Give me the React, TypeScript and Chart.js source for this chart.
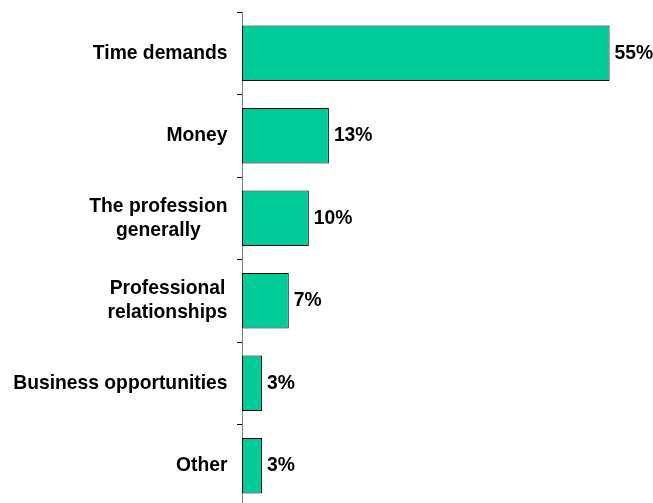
import React, { useEffect, useRef } from "react";
import { Chart, registerables } from "chart.js";

Chart.register(...registerables);

const categories: string[][] = [
  ["Time demands"],
  ["Money"],
  ["The profession", "generally"],
  ["Professional", "relationships"],
  ["Business opportunities"],
  ["Other"],
];
const values: number[] = [55, 13, 10, 7, 3, 3];
const valueSuffix = "%";

const FONT = "bold 19.3px 'Liberation Sans', Arial, sans-serif";

const labelPlugin = {
  id: "customLabels",
  afterDatasetsDraw(chart: any) {
    const ctx = chart.ctx;
    const yScale = chart.scales.y;
    const meta = chart.getDatasetMeta(0);
    ctx.save();
    ctx.font = FONT;
    ctx.fillStyle = "#000";
    ctx.textBaseline = "middle";
    // category labels
    const rightEdge = chart.chartArea.left - 14.5;
    const lineH = 24;
    categories.forEach((lines, i) => {
      const yc = yScale.getPixelForValue(i);
      const widths = lines.map((l) => ctx.measureText(l).width);
      const maxW = Math.max(...widths);
      const cx = rightEdge - maxW / 2;
      ctx.textAlign = "center";
      const startY = yc - ((lines.length - 1) * lineH) / 2;
      lines.forEach((l, j) => ctx.fillText(l, cx, startY + j * lineH));
    });
    // value labels
    ctx.textAlign = "left";
    meta.data.forEach((bar: any, i: number) => {
      ctx.fillText(values[i] + valueSuffix, bar.x + 5, bar.y);
    });
    ctx.restore();
  },
};

export default function App() {
  const ref = useRef<HTMLCanvasElement>(null);
  useEffect(() => {
    if (!ref.current) return;
    const chart = new Chart(ref.current, {
      type: "bar",
      data: {
        labels: categories.map((c) => c.join(" ")),
        datasets: [
          {
            data: values,
            backgroundColor: "#00CC99",
            borderColor: "#000000",
            borderWidth: 1,
            borderSkipped: false,
            barPercentage: 0.67,
            categoryPercentage: 1,
          },
        ],
      },
      options: {
        indexAxis: "y",
        animation: false,
        responsive: false,
        maintainAspectRatio: false,
        layout: { padding: { left: 237, right: 10, top: 12, bottom: 13 } },
        plugins: { legend: { display: false }, tooltip: { enabled: false } },
        scales: {
          x: { display: false, min: 0, max: 60 },
          y: {
            ticks: { display: false },
            grid: {
              drawOnChartArea: false,
              drawTicks: true,
              tickLength: 5,
              color: "#000000",
              offset: true,
            },
            border: { display: true, color: "#808080", width: 1 },
          },
        },
      },
      plugins: [labelPlugin],
    });
    return () => chart.destroy();
  }, []);
  return (
    <div
      style={{
        position: "fixed",
        left: 0,
        top: 0,
        width: 653,
        height: 503,
        overflow: "hidden",
        background: "#fff",
      }}
    >
      <canvas ref={ref} width={653} height={520} style={{ display: "block" }} />
    </div>
  );
}
